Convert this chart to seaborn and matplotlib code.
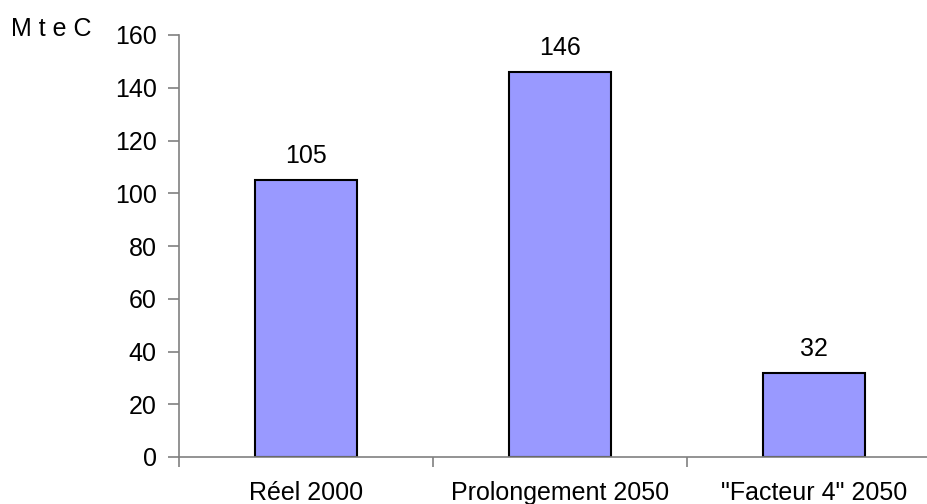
import matplotlib
matplotlib.use("Agg")
import matplotlib.pyplot as plt
import seaborn as sns
import pandas as pd
from matplotlib.ticker import FixedLocator

categories = ["Réel 2000", "Prolongement 2050", "\"Facteur 4\" 2050"]
values = [105, 146, 32]
yticks = [0, 20, 40, 60, 80, 100, 120, 140, 160]

sns.set_theme(style="white")
plt.rcParams['font.family'] = ['Liberation Sans', 'DejaVu Sans']

df = pd.DataFrame({"cat": categories, "val": values})

fig = plt.figure(figsize=(9.28, 5.04), dpi=100)
ax = fig.add_axes([179/928, 47/504, (941-179)/928, (457-35)/504])

sns.barplot(data=df, x="cat", y="val", ax=ax, color="#9999FF", saturation=1,
            width=0.4, edgecolor="black", linewidth=1.5)

ax.set_xlim(-0.5, 2.5)
ax.set_ylim(0, 160)
ax.set_yticks(yticks)
ax.set_xlabel("")
ax.set_ylabel("")

for s in ["top", "right"]:
    ax.spines[s].set_visible(False)
for s in ["left", "bottom"]:
    ax.spines[s].set_color("#808080")
    ax.spines[s].set_linewidth(1.2)

ax.tick_params(axis="y", which="major", direction="out", length=8, width=1.2,
               color="#808080", labelsize=18, pad=8, left=True, labelcolor="black")
ax.tick_params(axis="x", which="major", length=0, labelsize=18, pad=17, labelcolor="black")
ax.xaxis.set_minor_locator(FixedLocator([-0.5, 0.5, 1.5, 2.5]))
ax.tick_params(axis="x", which="minor", direction="out", length=7, width=1.2,
               color="#808080", bottom=True)

for i, v in enumerate(values):
    ax.text(i, v + 6.4, str(v), ha="center", va="baseline", fontsize=18, color="black")

fig.text(11/928, 1 - 36/504, "M t e C", ha="left", va="baseline", fontsize=18, color="black")

fig.savefig("out.png", dpi=100)
